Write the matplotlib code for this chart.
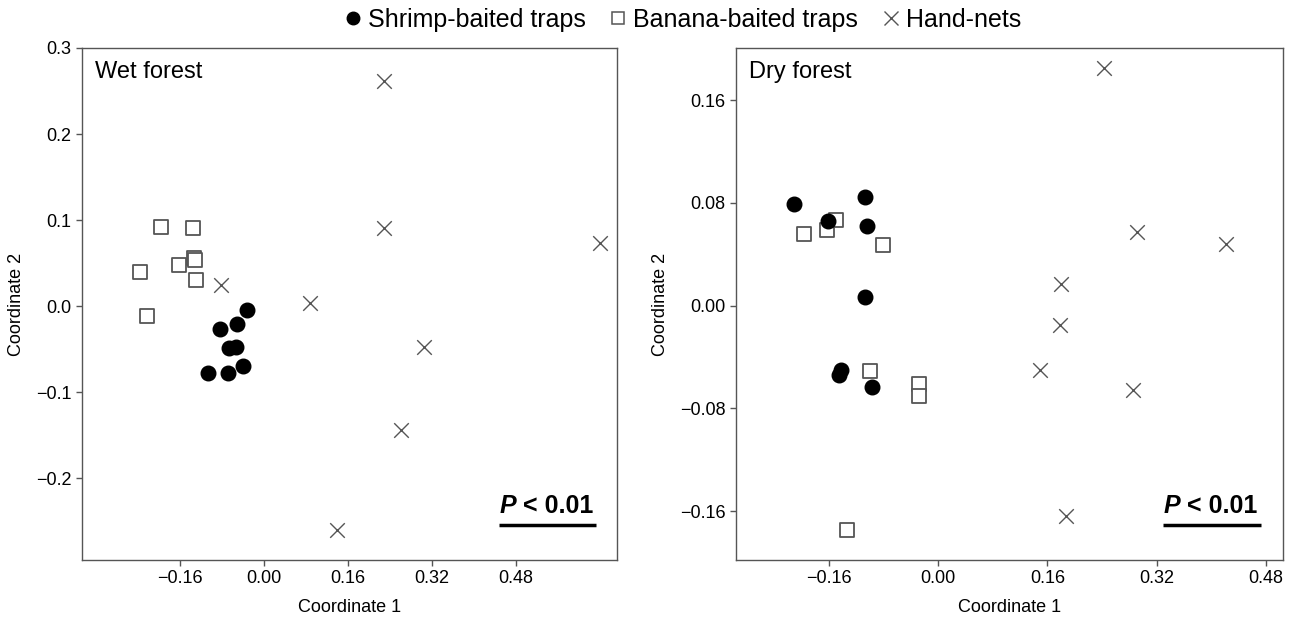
import numpy as np
import matplotlib
matplotlib.use("Agg")
import matplotlib.pyplot as plt
from matplotlib.lines import Line2D

plt.rcParams['font.family'] = ['Liberation Sans', 'DejaVu Sans']

# Wet forest ordination
wet_shrimp_x = [-0.032, -0.084, -0.051, -0.067, -0.053, -0.107, -0.069, -0.040]
wet_shrimp_y = [-0.005, -0.026, -0.021, -0.049, -0.048, -0.078, -0.078, -0.070]
wet_banana_x = [-0.197, -0.136, -0.134, -0.132, -0.163, -0.236, -0.130, -0.223]
wet_banana_y = [0.092, 0.091, 0.056, 0.054, 0.048, 0.040, 0.030, -0.012]
wet_hand_x = [-0.082, 0.087, 0.229, 0.229, 0.640, 0.305, 0.261, 0.139]
wet_hand_y = [0.024, 0.004, 0.262, 0.091, 0.073, -0.048, -0.144, -0.260]

# Dry forest ordination
dry_shrimp_x = [-0.211, -0.107, -0.161, -0.104, -0.107, -0.145, -0.142, -0.097]
dry_shrimp_y = [0.0794, 0.0843, 0.0657, 0.0618, 0.0068, -0.0537, -0.0504, -0.0636]
dry_banana_x = [-0.150, -0.163, -0.197, -0.081, -0.100, -0.028, -0.028, -0.133]
dry_banana_y = [0.067, 0.0587, 0.056, 0.0472, -0.0511, -0.0607, -0.0706, -0.175]
dry_hand_x = [0.243, 0.291, 0.422, 0.180, 0.179, 0.149, 0.285, 0.187]
dry_hand_y = [0.1846, 0.0569, 0.0483, 0.0171, -0.0148, -0.0498, -0.0654, -0.1636]

xticks = [-0.16, 0.00, 0.16, 0.32, 0.48]
wet_yticks = [-0.2, -0.1, 0.0, 0.1, 0.2, 0.3]
dry_yticks = [-0.16, -0.08, 0.00, 0.08, 0.16]

spine_col = '#555555'

fig = plt.figure(figsize=(12.94, 6.25), dpi=100)
ax1 = fig.add_axes([0.0634, 0.104, 0.4134, 0.8192])
ax2 = fig.add_axes([0.5688, 0.104, 0.4227, 0.8192])


def draw(ax, sx, sy, bx, by, hx, hy, title, xlim, ylim, yticks, yfmt):
    ax.scatter(sx, sy, s=110, color='black', marker='o', zorder=3)
    ax.scatter(bx, by, s=110, facecolor='white', edgecolor='#555555',
               marker='s', linewidths=1.3, zorder=2)
    ax.scatter(hx, hy, s=110, color='#555555', marker='x', linewidths=1.0, zorder=2)
    ax.set_xlim(*xlim)
    ax.set_ylim(*ylim)
    ax.set_xticks(xticks)
    ax.set_xticklabels(['\u22120.16', '0.00', '0.16', '0.32', '0.48'])
    ax.set_yticks(yticks)
    ax.set_yticklabels([(yfmt % v).replace('-', '\u2212') for v in yticks])
    ax.tick_params(labelsize=13, length=4, width=1, color=spine_col)
    for sp in ax.spines.values():
        sp.set_color(spine_col)
        sp.set_linewidth(1.0)
    ax.set_xlabel('Coordinate 1', fontsize=13, labelpad=8)
    ax.set_ylabel('Coordinate 2', fontsize=13, labelpad=8)
    ax.text(0.024, 0.975, title, transform=ax.transAxes, fontsize=17,
            ha='left', va='top')
    ax.text(0.812, 0.092, 'P', transform=ax.transAxes, fontsize=18,
            fontweight='bold', fontstyle='italic', ha='right', va='baseline')
    ax.text(0.812, 0.092, ' < 0.01', transform=ax.transAxes, fontsize=18,
            fontweight='bold', ha='left', va='baseline')
    ax.plot([0.78, 0.96], [0.068, 0.068], transform=ax.transAxes,
            color='black', lw=2.5, solid_capstyle='butt', clip_on=False)


draw(ax1, wet_shrimp_x, wet_shrimp_y, wet_banana_x, wet_banana_y,
     wet_hand_x, wet_hand_y, 'Wet forest', (-0.347, 0.672), (-0.295, 0.3),
     wet_yticks, '%.1f')
draw(ax2, dry_shrimp_x, dry_shrimp_y, dry_banana_x, dry_banana_y,
     dry_hand_x, dry_hand_y, 'Dry forest', (-0.296, 0.505), (-0.198, 0.2005),
     dry_yticks, '%.2f')

handles = [
    Line2D([], [], ls='none', marker='o', color='black', markersize=9),
    Line2D([], [], ls='none', marker='s', markerfacecolor='white',
           markeredgecolor='#555555', markersize=9, markeredgewidth=1.1),
    Line2D([], [], ls='none', marker='x', color='#555555', markersize=10,
           markeredgewidth=1.0),
]
fig.legend(handles, ['Shrimp-baited traps', 'Banana-baited traps', 'Hand-nets'],
           loc='center', bbox_to_anchor=(0.526, 0.968), ncol=3, frameon=False,
           fontsize=18, handletextpad=0.1, columnspacing=0.8, handlelength=1.0)

fig.savefig('out.png', dpi=100)
